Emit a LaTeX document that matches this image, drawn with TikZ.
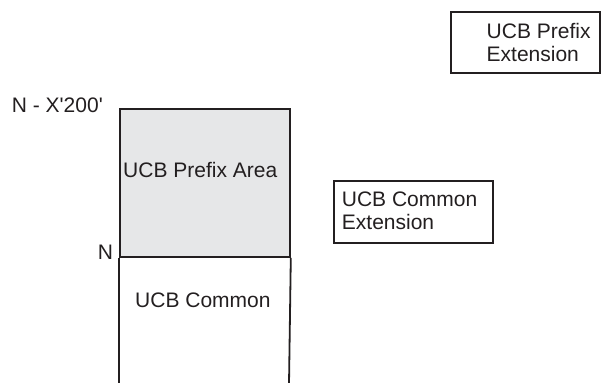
\documentclass[tikz,border=0pt]{standalone}
\usepackage{fontspec}
\setmainfont{Liberation Sans}
\definecolor{inkc}{HTML}{231F20}
\definecolor{areagray}{HTML}{E6E7E8}
\begin{document}
\begin{tikzpicture}[x=1pt,y=-1pt,
  frame/.style={draw=inkc, line width=1.8pt, inner sep=0pt, anchor=north west},
  wall/.style={draw=inkc, line width=1.8pt},
  lbl/.style={inner sep=0pt, text=inkc, font=\fontsize{21}{23.5}\selectfont, align=left}]
\useasboundingbox (0,0) rectangle (601,382);
% main column
\node[frame, fill=areagray, minimum width=170pt, minimum height=148pt] (prefixarea) at (119,108) {};
\coordinate (leftend) at (119,384);
\coordinate (rightend) at (289,384);
\draw[wall] (prefixarea.south west) -- (leftend);
\draw[wall] (prefixarea.south east) -- (rightend);
\node[lbl, anchor=south west] (prefixtext) at (123,178.3) {UCB Prefix Area};
\node[lbl, anchor=south west] (commontext) at (135,308.3) {UCB Common};
\node[lbl, anchor=south east] (ntop) at (103,113.3) {N - X\textquotesingle 200\textquotesingle};
\node[lbl, anchor=south east] (nmid) at (113.3,260) {N};
% extension boxes
\node[frame, minimum width=149pt, minimum height=61pt] (prefext) at (450,11) {};
\node[lbl, anchor=south west] (prefexttext) at (486.5,62) {UCB Prefix\\Extension};
\node[frame, minimum width=159pt, minimum height=62pt] (comext) at (333,180) {};
\node[lbl, anchor=south west] (comexttext) at (341.7,230) {UCB Common\\Extension};
\end{tikzpicture}
\end{document}
